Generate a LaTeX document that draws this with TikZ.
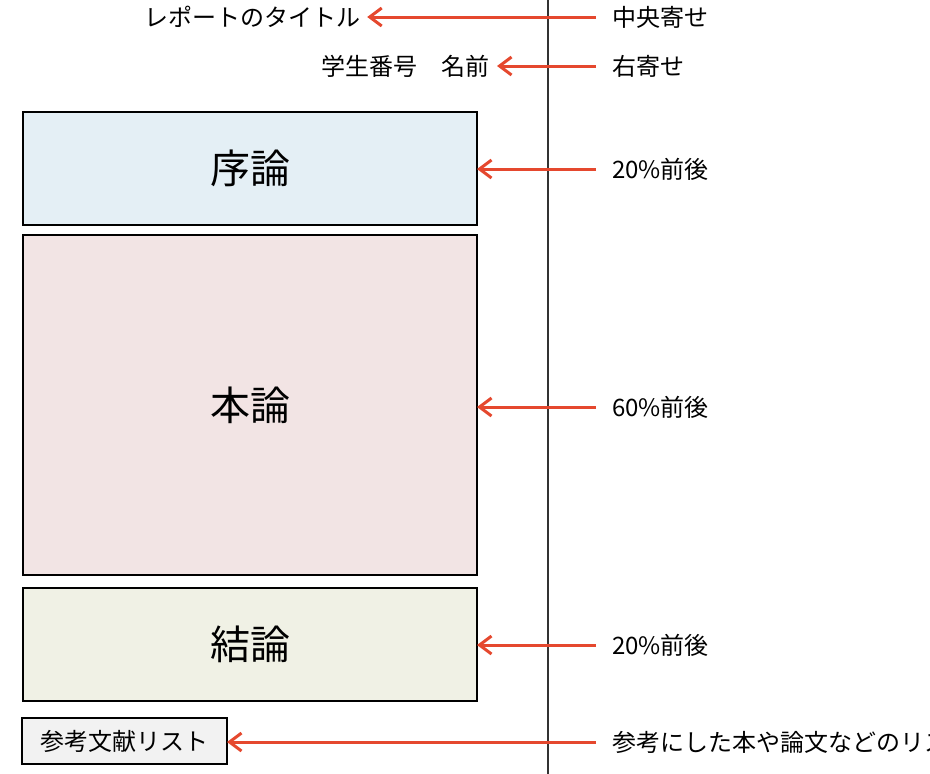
\documentclass[tikz,border=0pt]{standalone}
\usepackage{fontspec}
\setmainfont{Noto Sans CJK JP}
\usepackage{tikz}
\usetikzlibrary{arrows.meta}

\begin{document}
\begin{tikzpicture}[x=1pt, y=-1pt,
 every node/.style={font=\fontsize{24}{28}\selectfont},
 block/.style={rectangle, inner sep=0pt, outer sep=0pt, minimum width=454pt, line width=1.4pt, font=\fontsize{40}{46}\selectfont},
 smallblock/.style={rectangle, inner sep=0pt, outer sep=0pt, minimum width=205pt, minimum height=46pt, line width=1.4pt},
 str/.style={rectangle, inner ysep=2pt, inner xsep=7pt},
 note/.style={rectangle, anchor=west, inner ysep=2pt, inner xsep=16pt},
 arrow/.style={-{Straight Barb[length=12pt, width=18pt, line width=3pt]}, line width=3pt, draw=arrowred}]

    \definecolor{arrowred}{RGB}{229,72,46}
    \definecolor{intro}{RGB}{228,239,245}
    \definecolor{main}{RGB}{242,228,228}
    \definecolor{concl}{RGB}{240,241,229}
    \definecolor{refs}{RGB}{242,242,242}

    \clip (0,0) rectangle (930,774);
    \useasboundingbox (0,0) rectangle (930,774);

    \draw[line width=1.4pt, draw=black!80] (548,0) -- (548,774);

	\node[str] (title) at (252,17) {レポートのタイトル};
	\node[str, anchor=east] (student) at (497,66) {学生番号　名前};

	\node[block, draw=black, fill=intro, minimum height=113pt] (jo) at (250,168.5) {序論};
	\node[block, draw=black, fill=main, minimum height=340pt] (hon) at (250,405) {本論};
	\node[block, draw=black, fill=concl, minimum height=113pt] (ketsu) at (250,644.5) {結論};
	\node[smallblock, draw=black, fill=refs] (refs) at (124.5,741) {参考文献リスト};

	\node[note] (centering) at (596,17) {中央寄せ};
	\node[note] (flushright) at (596,66) {右寄せ};
	\node[note] (joratio) at (596,169) {20\%前後};
	\node[note] (honratio) at (596,407) {60\%前後};
	\node[note] (ketsuratio) at (596,645) {20\%前後};
	\node[note] (refsnote) at (596,742) {参考にした本や論文などのリスト};

	\draw (centering.west) edge [arrow] (centering.west -| title.east);
	\draw (flushright.west) edge [arrow] (flushright.west -| student.east);
	\draw (joratio.west) edge [arrow] (joratio.west -| jo.east);
	\draw (honratio.west) edge [arrow] (honratio.west -| hon.east);
	\draw (ketsuratio.west) edge [arrow] (ketsuratio.west -| ketsu.east);
	\draw (refsnote.west) edge [arrow] (refsnote.west -| refs.east);
\end{tikzpicture}
\end{document}
